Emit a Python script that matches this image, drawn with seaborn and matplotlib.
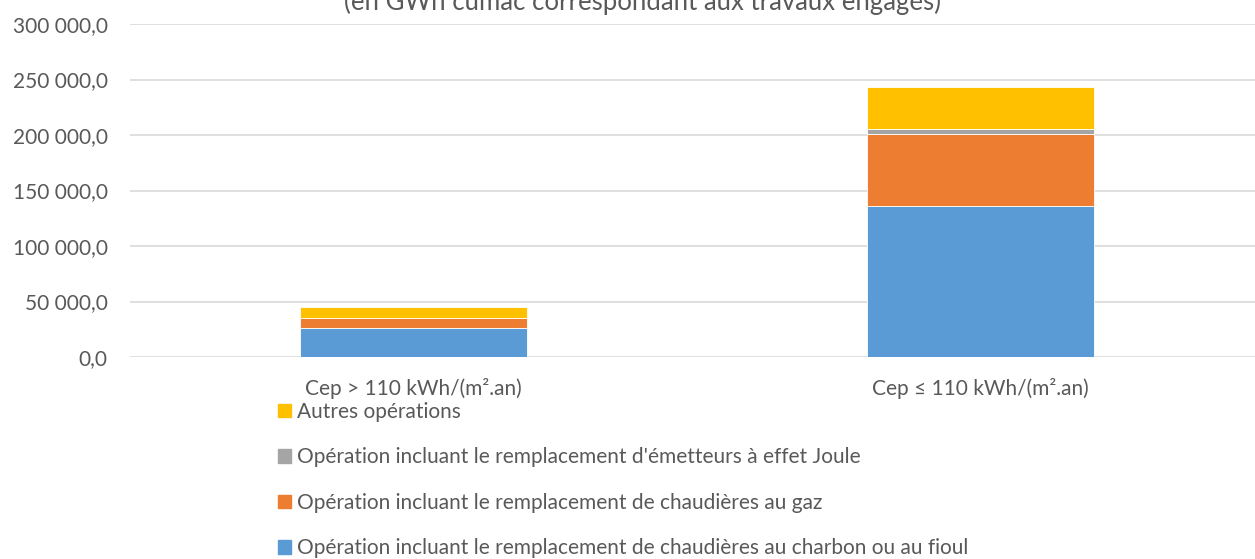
import matplotlib
matplotlib.use("Agg")
import matplotlib.pyplot as plt
import matplotlib.patches as mpatches
import matplotlib.ticker as mticker
import seaborn as sns
import pandas as pd

# data (GWh cumac)
categories = ["Cep > 110 kWh/(m².an)", "Cep ≤ 110 kWh/(m².an)"]
charbon_fioul = [25700, 136300]
gaz = [9000, 64400]
effet_joule = [600, 4700]
autres = [9500, 37600]

series_names = [
    "Opération incluant le remplacement de chaudières au charbon ou au fioul",
    "Opération incluant le remplacement de chaudières au gaz",
    "Opération incluant le remplacement d'émetteurs à effet Joule",
    "Autres opérations",
]
colors = ["#5B9BD5", "#ED7D31", "#A5A5A5", "#FFC000"]
title = "(en GWh cumac correspondant aux travaux engagés)"

sns.set_style("white")
plt.rcParams["font.family"] = ["Lato", "DejaVu Sans"]
text_color = "#595959"
fs = 15

fig = plt.figure(figsize=(12.55, 5.59), dpi=100)
ax = fig.add_axes([130 / 1255, (559 - 357) / 559, (1264 - 130) / 1255, 333 / 559])

bottom = [0, 0]
for name, vals, col in zip(series_names, [charbon_fioul, gaz, effet_joule, autres], colors):
    df = pd.DataFrame({"cat": categories, "val": vals})
    sns.barplot(data=df, x="cat", y="val", color=col, saturation=1, bottom=bottom,
                width=0.40, edgecolor="white", linewidth=0.6, ax=ax, zorder=3)
    bottom = [b + v for b, v in zip(bottom, vals)]

ax.set_xlim(-0.5, 1.5)
ax.set_ylim(0, 300000)
ax.set_yticks(range(0, 300001, 50000))
ax.yaxis.set_major_formatter(mticker.FuncFormatter(
    lambda v, p: f"{v:,.1f}".replace(",", " ").replace(".", ",")))
ax.grid(axis="y", color="#D9D9D9", linewidth=1.2, zorder=0)
ax.set_axisbelow(True)
for s in ax.spines.values():
    s.set_visible(False)
ax.tick_params(axis="both", length=0, labelsize=fs, colors=text_color)
ax.tick_params(axis="y", pad=16)
ax.tick_params(axis="x", pad=15)
ax.set_xlabel("")
ax.set_ylabel("")

fig.text(643 / 1255, 1 - 10 / 559, title, ha="center", va="baseline",
         fontsize=18.5, color=text_color)

handles = [mpatches.Patch(color=c, label=n) for n, c in zip(series_names, colors)][::-1]
leg = fig.legend(handles=handles, loc="upper left", bbox_to_anchor=(278 / 1255, 1 - 402 / 559),
                 frameon=False, fontsize=fs, labelspacing=1.22, handlelength=0.62,
                 handleheight=0.62, handletextpad=0.3, borderaxespad=0, borderpad=0)
for t in leg.get_texts():
    t.set_color(text_color)

fig.savefig("out.png", dpi=100)
